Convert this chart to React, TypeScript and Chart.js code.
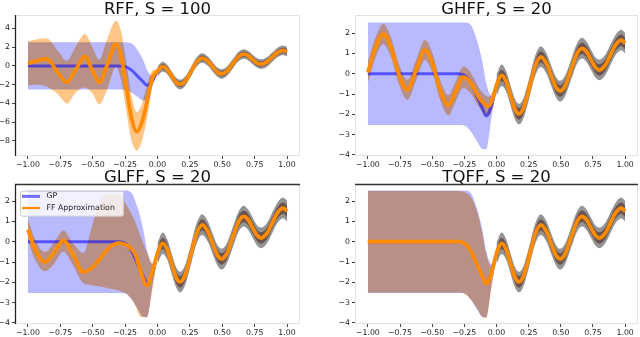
import React, { useEffect, useRef } from 'react';
import { Chart, registerables } from 'chart.js';

// ---------------- data ----------------
const xTickValues = [-1, -0.75, -0.5, -0.25, 0, 0.25, 0.5, 0.75, 1];
const xTickLabels = ['−1.00', '−0.75', '−0.50', '−0.25', '0.00', '0.25', '0.50', '0.75', '1.00'];
const rffYTicks = [-8, -6, -4, -2, 0, 2, 4];
const rffYLabels = ['−8', '−6', '−4', '−2', '0', '2', '4'];
const unitYTicks = [-4, -3, -2, -1, 0, 1, 2];
const unitYLabels = ['−4', '−3', '−2', '−1', '0', '1', '2'];

// observed region (grey scatter trend) x >= 0
const obsX = [0.0, 0.04, 0.075, 0.11, 0.145, 0.175, 0.21, 0.25, 0.3, 0.345, 0.39, 0.43, 0.465, 0.495, 0.535, 0.58, 0.625, 0.665, 0.7, 0.735, 0.77, 0.8, 0.845, 0.885, 0.925, 0.97, 1.0];
const obsY = [-0.58, -0.08, -0.38, -1.09, -1.77, -1.98, -1.69, -0.83, 0.37, 0.83, 0.48, -0.18, -0.69, -0.85, -0.58, 0.2, 0.98, 1.25, 1.08, 0.68, 0.3, 0.18, 0.42, 0.92, 1.41, 1.65, 1.5];
// envelope of the grey scatter points
const scatterHi = [-0.05, 0.45, 0.12, -0.59, -1.27, -1.48, -1.19, -0.33, 0.87, 1.35, 0.98, 0.32, -0.19, -0.35, -0.08, 0.7, 1.48, 1.77, 1.58, 1.18, 0.8, 0.7, 0.92, 1.42, 1.91, 2.17, 2.02];
const scatterLo = [-1.1, -0.6, -0.88, -1.59, -2.27, -2.5, -2.19, -1.33, -0.13, 0.33, -0.02, -0.68, -1.19, -1.37, -1.08, -0.3, 0.48, 0.75, 0.58, 0.18, -0.2, -0.32, -0.08, 0.42, 0.91, 1.15, 1.0];
// posterior band in observed region
const obsUpper = [-0.3, 0.2, -0.1, -0.81, -1.49, -1.7, -1.41, -0.55, 0.65, 1.11, 0.76, 0.1, -0.41, -0.57, -0.3, 0.48, 1.26, 1.53, 1.36, 0.96, 0.58, 0.46, 0.7, 1.2, 1.69, 1.93, 1.78];
const obsLower = [-0.86, -0.36, -0.66, -1.37, -2.05, -2.26, -1.97, -1.11, 0.09, 0.55, 0.2, -0.46, -0.97, -1.13, -0.86, -0.08, 0.7, 0.97, 0.8, 0.4, 0.02, -0.1, 0.14, 0.64, 1.13, 1.37, 1.22];

// GP posterior, unobserved region
const gpLeftX = [-1.0, -0.3, -0.25, -0.2, -0.15, -0.11, -0.08, -0.04];
const gpLeftMean = [0, 0, -0.08, -0.45, -1.15, -1.7, -2.08, -1.58];
const gpLeftUpper = [2.52, 2.52, 2.52, 2.4, 1.6, 0.6, -0.45, -1.1];
const gpLeftLower = [-2.52, -2.52, -2.55, -2.85, -3.35, -3.7, -3.72, -2.2];

// RFF, S = 100
const rffX = [-1.0, -0.93, -0.855, -0.77, -0.7, -0.63, -0.56, -0.5, -0.45, -0.39, -0.32, -0.28, -0.24, -0.2, -0.16, -0.12, -0.08, -0.04];
const rffMean = [0.25, 0.55, 0.75, -0.7, -1.75, -0.38, 1.0, -0.57, -1.75, 0.05, 2.35, 0.98, -2.3, -5.6, -7.0, -6.0, -3.8, -1.3];
const rffUpper = [2.6, 2.85, 2.95, 1.6, 0.55, 2.1, 3.4, 1.9, 0.65, 2.8, 4.8, 3.6, 0.3, -3.2, -4.9, -4.0, -2.0, -0.5];
const rffLower = [-2.1, -2.0, -2.2, -3.0, -4.0, -2.8, -2.3, -3.0, -4.1, -2.6, -0.1, -1.6, -4.9, -8.0, -9.0, -8.0, -5.5, -2.1];

// GHFF, S = 20
const ghffX = [-1.0, -0.94, -0.88, -0.82, -0.76, -0.693, -0.625, -0.556, -0.5, -0.44, -0.375, -0.32, -0.258, -0.2, -0.13, -0.063, -0.03];
const ghffMean = [0.06, 1.3, 1.95, 1.31, 0.0, -0.8, 0.18, 1.16, 0.56, -0.76, -1.55, -0.92, -0.16, -0.46, -1.23, -1.6, -1.25];
const ghffUpper = [0.6, 1.8, 2.45, 1.8, 0.5, -0.3, 0.68, 1.66, 1.06, -0.26, -1.05, -0.42, 0.35, 0.05, -0.75, -1.13, -0.85];
const ghffLower = [-0.45, 0.8, 1.45, 0.8, -0.5, -1.3, -0.32, 0.66, 0.06, -1.26, -2.05, -1.42, -0.7, -0.97, -1.7, -2.07, -1.7];

// GLFF, S = 20
const glffX = [-1.0, -0.94, -0.868, -0.8, -0.727, -0.65, -0.572, -0.5, -0.44, -0.37, -0.3, -0.23, -0.173, -0.13, -0.083, -0.04];
const glffMean = [0.6, -0.45, -1.0, -0.55, 0.06, -0.65, -1.49, -1.25, -0.81, -0.28, -0.07, -0.2, -0.59, -1.45, -2.15, -1.5];
const glffUpper = [1.1, 0.05, -0.5, -0.05, 0.55, -0.1, -0.55, 0.9, 2.0, 2.35, 2.3, 1.7, 1.0, 0.25, -0.5, -1.05];
const glffLower = [0.05, -0.95, -1.45, -1.1, -0.5, -1.2, -2.05, -2.15, -2.2, -2.3, -2.4, -2.6, -3.1, -3.7, -3.7, -2.4];

// TQFF, S = 20
const tqffX = [-1.0, -0.3, -0.25, -0.2, -0.15, -0.11, -0.08, -0.04];
const tqffMean = [0, 0, -0.08, -0.45, -1.15, -1.7, -2.08, -1.58];
const tqffUpper = [2.5, 2.5, 2.45, 2.2, 1.45, 0.4, -0.6, -1.2];
const tqffLower = [-2.5, -2.5, -2.55, -2.85, -3.3, -3.7, -3.75, -2.3];

// ---------------- styles ----------------
const ORANGE = 'rgb(255,140,0)';
const BLUE_LINE = 'rgba(0,0,255,0.55)';
const ORANGE_BAND = 'rgb(255,198,135)';
const BLUE_BAND = 'rgb(185,185,255)';
const DATA_GREY = 'rgb(148,148,148)';
const FONT = 'DejaVu Sans';

const blendPlugin = {
  id: 'blendMultiply',
  beforeDatasetDraw(chart: any, args: any) {
    const ds = chart.data.datasets[args.index];
    if (ds && ds.blend) chart.ctx.globalCompositeOperation = 'multiply';
  },
  afterDatasetDraw(chart: any) {
    chart.ctx.globalCompositeOperation = 'source-over';
  },
};
Chart.register(blendPlugin, ...registerables);

const PANELS = [
  { key: 'rff', title: 'RFF, S = 100', left: 0, top: 0, w: 320, h: 168, area: { l: 15, t: 15, r: 300, b: 156 },
    yMin: -9.6, yMax: 5.42, yTicks: rffYTicks, yLabels: rffYLabels,
    ffX: rffX, ffMean: rffMean, ffUpper: rffUpper, ffLower: rffLower, titleY: 13.5, darkLeft: true, darkTop: false, legend: false },
  { key: 'ghff', title: 'GHFF, S = 20', left: 320, top: 0, w: 320, h: 168, area: { l: 35, t: 15, r: 318, b: 156 },
    yMin: -4.05, yMax: 2.89, yTicks: unitYTicks, yLabels: unitYLabels,
    ffX: ghffX, ffMean: ghffMean, ffUpper: ghffUpper, ffLower: ghffLower, titleY: 13.5, darkLeft: false, darkTop: false, legend: false },
  { key: 'glff', title: 'GLFF, S = 20', left: 0, top: 168, w: 320, h: 169, area: { l: 15, t: 16, r: 300, b: 156 },
    yMin: -4.05, yMax: 2.84, yTicks: unitYTicks, yLabels: unitYLabels,
    ffX: glffX, ffMean: glffMean, ffUpper: glffUpper, ffLower: glffLower, titleY: 14, darkLeft: true, darkTop: true, legend: true },
  { key: 'tqff', title: 'TQFF, S = 20', left: 320, top: 168, w: 320, h: 169, area: { l: 35, t: 16, r: 318, b: 156 },
    yMin: -4.05, yMax: 2.84, yTicks: unitYTicks, yLabels: unitYLabels,
    ffX: tqffX, ffMean: tqffMean, ffUpper: tqffUpper, ffLower: tqffLower, titleY: 14, darkLeft: false, darkTop: true, legend: false },
];

function makeOverlay(p: any) {
  return {
    id: 'overlay_' + p.key,
    beforeDraw(chart: any) {
      const ctx = chart.ctx;
      ctx.save();
      ctx.fillStyle = '#ffffff';
      ctx.fillRect(0, 0, chart.width, chart.height);
      ctx.restore();
    },
    afterDraw(chart: any) {
      const ctx = chart.ctx;
      const a = chart.chartArea;
      ctx.save();
      ctx.globalCompositeOperation = 'source-over';
      ctx.lineWidth = 1;
      ctx.strokeStyle = '#e4e4e4';
      ctx.strokeRect(a.left + 0.5, a.top + 0.5, a.right - a.left - 1, a.bottom - a.top - 1);
      if (p.darkLeft) {
        ctx.strokeStyle = '#222';
        ctx.lineWidth = 1.3;
        ctx.beginPath();
        ctx.moveTo(a.left + 0.5, a.top);
        ctx.lineTo(a.left + 0.5, a.bottom);
        ctx.stroke();
      }
      if (p.darkTop) {
        ctx.strokeStyle = '#333';
        ctx.lineWidth = 1.6;
        ctx.beginPath();
        ctx.moveTo(a.left, a.top + 0.5);
        ctx.lineTo(a.right, a.top + 0.5);
        ctx.stroke();
      }
      ctx.fillStyle = '#111';
      ctx.font = `16.5px "${FONT}"`;
      ctx.textAlign = 'center';
      ctx.textBaseline = 'alphabetic';
      ctx.fillText(p.title, (a.left + a.right) / 2, p.titleY);

      if (p.legend) {
        const lx = a.left + 5;
        const ly = a.top + 6.7;
        const lw = 103;
        const lh = 25;
        ctx.fillStyle = 'rgba(255,255,255,0.8)';
        ctx.strokeStyle = '#cccccc';
        ctx.lineWidth = 1;
        ctx.beginPath();
        if (ctx.roundRect) ctx.roundRect(lx + 0.5, ly + 0.5, lw, lh, 2);
        else ctx.rect(lx + 0.5, ly + 0.5, lw, lh);
        ctx.fill();
        ctx.stroke();
        const ds = chart.data.datasets;
        const entries = [
          { label: ds[1].label, color: BLUE_LINE, w: 3, y: ly + 5.7 },
          { label: ds[0].label, color: ORANGE, w: 2.2, y: ly + 17.3 },
        ];
        ctx.font = `7.8px "${FONT}"`;
        ctx.textAlign = 'left';
        ctx.textBaseline = 'middle';
        for (const e of entries) {
          ctx.strokeStyle = e.color;
          ctx.lineWidth = e.w;
          ctx.beginPath();
          ctx.moveTo(lx + 2, e.y);
          ctx.lineTo(lx + 20, e.y);
          ctx.stroke();
          ctx.fillStyle = '#222';
          ctx.fillText(e.label, lx + 26.5, e.y);
        }
      }
      ctx.restore();
    },
  };
}

function buildChart(canvas: HTMLCanvasElement, p: any) {
  const pts = (xs: number[], ys: number[]) => xs.map((x, i) => ({ x, y: ys[i] }));
  const ffXs = p.ffX.concat(obsX);
  const gpXs = gpLeftX.concat(obsX);
  const common = { pointRadius: 0, pointHoverRadius: 0, cubicInterpolationMode: 'monotone' };
  const edge = { borderWidth: 0, borderColor: 'transparent' };
  const datasets: any[] = [
    { ...common, label: 'FF Approximation', data: pts(ffXs, p.ffMean.concat(obsY)), borderColor: ORANGE, borderWidth: 3.8, fill: false },
    { ...common, label: 'GP', data: pts(gpXs, gpLeftMean.concat(obsY)), borderColor: BLUE_LINE, borderWidth: 3, fill: false },
    { ...common, ...edge, label: 'ff lower', data: pts(ffXs, p.ffLower.concat(obsLower)), fill: false },
    { ...common, ...edge, label: 'ff upper', data: pts(ffXs, p.ffUpper.concat(obsUpper)), fill: 2, backgroundColor: ORANGE_BAND, blend: true },
    { ...common, ...edge, label: 'gp lower', data: pts(gpXs, gpLeftLower.concat(obsLower)), fill: false },
    { ...common, ...edge, label: 'gp upper', data: pts(gpXs, gpLeftUpper.concat(obsUpper)), fill: 4, backgroundColor: BLUE_BAND, blend: true },
    { ...common, ...edge, label: 'data lo', data: pts(obsX, scatterLo), fill: false },
    { ...common, ...edge, label: 'data hi', data: pts(obsX, scatterHi), fill: 6, backgroundColor: DATA_GREY, blend: true },
  ];
  const tickFont = { family: FONT, size: 7.8 };
  return new Chart(canvas, {
    type: 'line',
    data: { datasets },
    options: {
      animation: false,
      responsive: false,
      devicePixelRatio: 1,
      events: [],
      layout: { padding: { left: 0, top: p.area.t, right: p.w - p.area.r, bottom: 0 } },
      plugins: { legend: { display: false }, title: { display: false }, tooltip: { enabled: false } },
      scales: {
        x: {
          type: 'linear',
          min: -1.1,
          max: 1.1,
          afterBuildTicks: (s: any) => { s.ticks = xTickValues.map((v) => ({ value: v })); },
          afterFit: (s: any) => { s.height = p.h - p.area.b; },
          ticks: { callback: (_v: any, i: number) => xTickLabels[i], font: tickFont, color: '#222', padding: 1, autoSkip: false, maxRotation: 0, minRotation: 0 },
          grid: { drawOnChartArea: false, drawTicks: true, tickLength: 3, color: '#444', lineWidth: 1 },
          border: { display: false },
        },
        y: {
          type: 'linear',
          min: p.yMin,
          max: p.yMax,
          afterBuildTicks: (s: any) => { s.ticks = p.yTicks.map((v: number) => ({ value: v })); },
          afterFit: (s: any) => { s.width = p.area.l; },
          ticks: { callback: (_v: any, i: number) => p.yLabels[i], font: tickFont, color: '#222', padding: 2, autoSkip: false },
          grid: { drawOnChartArea: false, drawTicks: true, tickLength: 3, color: '#444', lineWidth: 1 },
          border: { display: false },
        },
      },
    },
    plugins: [makeOverlay(p)],
  } as any);
}

function Panel({ p }: { p: any }) {
  const ref = useRef<HTMLCanvasElement | null>(null);
  useEffect(() => {
    if (!ref.current) return;
    const chart = buildChart(ref.current, p);
    return () => chart.destroy();
  }, [p]);
  return (
    <canvas
      ref={ref}
      width={p.w}
      height={p.h}
      style={{ position: 'absolute', left: p.left, top: p.top, width: p.w, height: p.h }}
    />
  );
}

export default function App() {
  return (
    <div style={{ position: 'fixed', left: 0, top: 0, width: 640, height: 337, background: '#fff', overflow: 'hidden' }}>
      {PANELS.map((p) => (
        <Panel key={p.key} p={p} />
      ))}
    </div>
  );
}
